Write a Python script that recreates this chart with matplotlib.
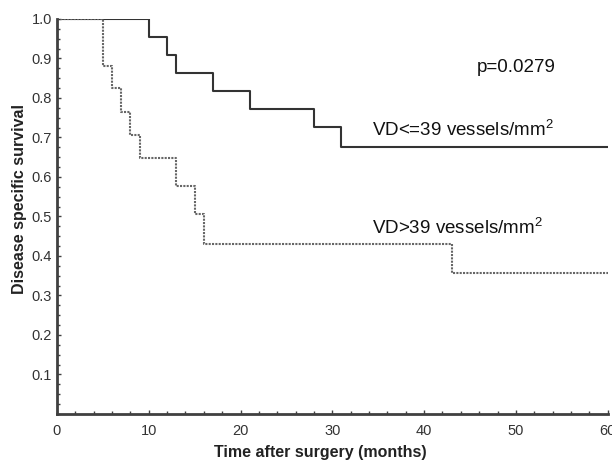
import matplotlib
matplotlib.use('Agg')
import matplotlib.pyplot as plt
from matplotlib.ticker import MultipleLocator

plt.rcParams['font.family'] = ['Liberation Sans', 'DejaVu Sans']
plt.rcParams['mathtext.fontset'] = 'custom'
plt.rcParams['mathtext.rm'] = 'Liberation Sans'

# Kaplan-Meier step data (time in months, survival after each event)
low_t = [0, 10, 12, 13, 17, 21, 28, 31, 60]
low_s = [1.0, 0.955, 0.909, 0.864, 0.818, 0.773, 0.727, 0.675, 0.675]
high_t = [0, 5, 6, 7, 8, 9, 13, 15, 16, 43, 60]
high_s = [1.0, 0.882, 0.824, 0.765, 0.706, 0.647, 0.576, 0.505, 0.43, 0.358, 0.358]

fig = plt.figure(figsize=(6.12, 4.61), dpi=100)
ax = fig.add_axes([0.093, 0.102, 0.9, 0.857])

ax.step(low_t, low_s, where='post', color='#333333', lw=1.5)
ax.step(high_t, high_s, where='post', color='#666666', lw=1.5, ls=(0, (1, 0.6)))

ax.set_xlim(0, 60)
ax.set_ylim(0, 1.0)
ax.set_xticks([0, 10, 20, 30, 40, 50, 60])
ax.set_yticks([0.1, 0.2, 0.3, 0.4, 0.5, 0.6, 0.7, 0.8, 0.9, 1.0])
ax.set_yticklabels(['0.1', '0.2', '0.3', '0.4', '0.5', '0.6', '0.7', '0.8', '0.9', '1.0'])
ax.xaxis.set_minor_locator(MultipleLocator(2))
ax.yaxis.set_minor_locator(MultipleLocator(0.025))
ax.tick_params(direction='in', length=3, width=1, colors='#404040', labelcolor='#333333', labelsize=10.5)
ax.tick_params(axis='x', pad=7)
ax.tick_params(which='minor', direction='in', length=2, width=1, colors='#404040')

for side in ['top', 'right']:
    ax.spines[side].set_visible(False)
for side in ['left', 'bottom']:
    ax.spines[side].set_color('#404040')
    ax.spines[side].set_linewidth(2)

ax.set_xlabel('Time after surgery (months)', fontsize=11.5, fontweight='bold', color='#222222')
ax.xaxis.set_label_coords(0.478, -0.079)
ax.set_ylabel('Disease specific survival', fontsize=11.5, fontweight='bold', color='#222222')
ax.yaxis.set_label_coords(-0.055, 0.545)

ax.text(45.7, 0.878, 'p=0.0279', fontsize=13.5, color='#111111', va='center')
ax.text(34.3, 0.719, 'VD<=39 vessels/mm$^2$', fontsize=13.5, color='#111111', va='center')
ax.text(34.3, 0.473, 'VD>39 vessels/mm$^2$', fontsize=13.5, color='#111111', va='center')

fig.savefig('out.png', dpi=100)
